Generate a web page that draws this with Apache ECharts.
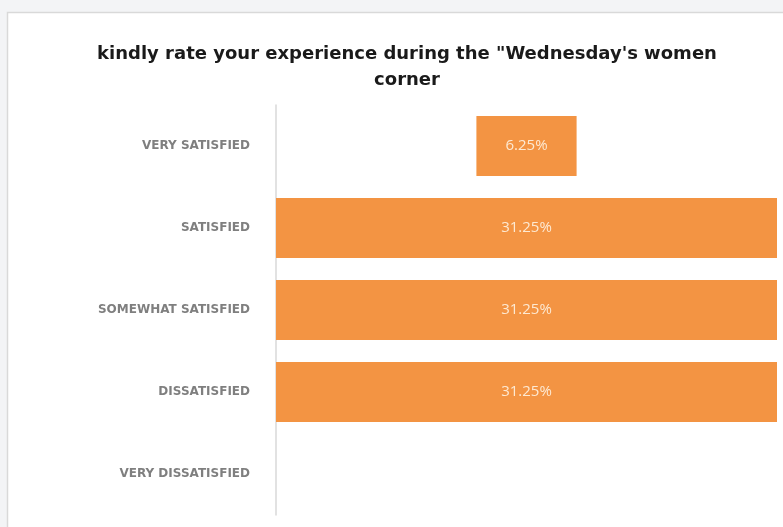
<!DOCTYPE html>
<html>
<head>
<meta charset="utf-8">
<script src="https://cdn.jsdelivr.net/npm/echarts@6/dist/echarts.min.js"></script>
<style>
html,body{margin:0;padding:0;background:#f3f4f6;}
#chart{width:783px;height:527px;}
</style>
</head>
<body>
<div id="chart"></div>
<script>
var titleText = 'kindly rate your experience during the "Wednesday\'s women\ncorner';
var categories = ['VERY SATISFIED', 'SATISFIED', 'SOMEWHAT SATISFIED', 'DISSATISFIED', 'VERY DISSATISFIED'];
var percentages = [6.25, 31.25, 31.25, 31.25, 0];

var maxVal = Math.max.apply(null, percentages);
var offsets = percentages.map(function (v) { return (maxVal - v) / 2; });

var chart = echarts.init(document.getElementById('chart'), null, {renderer: 'canvas'});
chart.setOption({
  backgroundColor: '#f3f4f6',
  animation: false,
  graphic: [{
    type: 'rect',
    z: -10,
    shape: {x: 7.5, y: 12.5, width: 790, height: 530},
    style: {fill: '#ffffff', stroke: '#d9d9d9', lineWidth: 1.5}
  }],
  title: {
    text: titleText,
    left: 402,
    textAlign: 'center',
    top: 36,
    textStyle: {
      fontFamily: 'DejaVu Sans',
      fontWeight: 'bold',
      fontSize: 18,
      lineHeight: 26,
      color: '#1a1a1a'
    }
  },
  grid: {left: 276, right: 6, top: 105, bottom: 12, containLabel: false},
  xAxis: {
    type: 'value',
    min: 0,
    max: maxVal,
    show: false
  },
  yAxis: {
    type: 'category',
    data: categories,
    inverse: true,
    axisLine: {show: true, lineStyle: {color: '#d9d9d9', width: 1.5}},
    axisTick: {show: false},
    axisLabel: {
      margin: 26,
      color: '#7f7f7f',
      fontFamily: 'DejaVu Sans',
      fontWeight: 'bold',
      fontSize: 12
    }
  },
  series: [{
    type: 'bar',
    stack: 'total',
    data: offsets,
    itemStyle: {color: 'transparent'},
    barWidth: '73%',
    silent: true
  }, {
    type: 'bar',
    stack: 'total',
    data: percentages,
    barWidth: '73%',
    itemStyle: {color: '#f39443'},
    label: {
      show: true,
      position: 'inside',
      color: '#fde9d2',
      fontFamily: 'Open Sans',
      fontSize: 15,
      formatter: function (p) { return p.value > 0 ? p.value + '%' : ''; }
    }
  }]
});
</script>
</body>
</html>
